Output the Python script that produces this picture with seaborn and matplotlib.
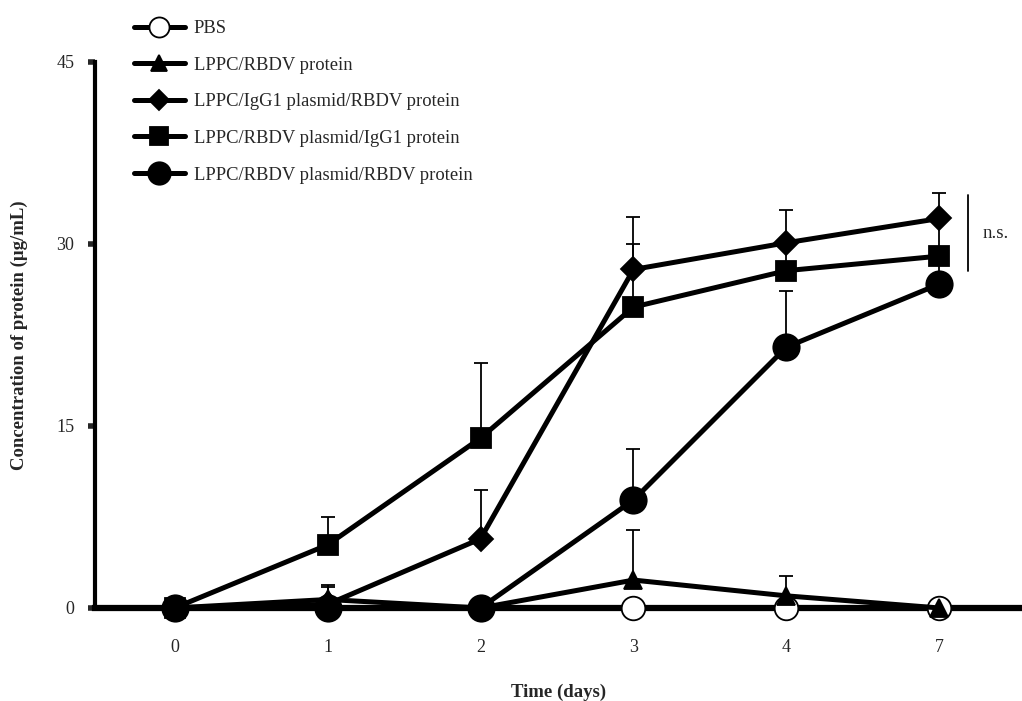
import numpy as np
import pandas as pd
import matplotlib
matplotlib.use("Agg")
import matplotlib.pyplot as plt
import seaborn as sns

days = ["0", "1", "2", "3", "4", "7"]
groups = ["PBS", "LPPC/RBDV protein", "LPPC/IgG1 plasmid/RBDV protein",
          "LPPC/RBDV plasmid/IgG1 protein", "LPPC/RBDV plasmid/RBDV protein"]

pbs = [0, 0, 0, 0, 0, 0]
rbdv_protein = [0, 0.7, 0, 2.3, 1.0, 0]
igg_plasmid = [0, 0.3, 5.7, 27.9, 30.1, 32.1]
rbdv_plasmid_igg = [0, 5.2, 14.0, 24.8, 27.8, 29.0]
rbdv_plasmid_rbdv = [0, 0, 0, 8.9, 21.5, 26.7]

pbs_err = [0, 0, 0, 0, 0, 0]
rbdv_protein_err = [0, 1.0, 0, 4.1, 1.6, 0]
igg_plasmid_err = [0, 1.6, 4.0, 4.3, 2.7, 2.1]
rbdv_plasmid_igg_err = [0, 2.3, 6.2, 5.2, 2.0, 3.0]
rbdv_plasmid_rbdv_err = [0, 0, 0, 4.2, 4.6, 2.5]

values = [pbs, rbdv_protein, igg_plasmid, rbdv_plasmid_igg, rbdv_plasmid_rbdv]
errors = [pbs_err, rbdv_protein_err, igg_plasmid_err, rbdv_plasmid_igg_err, rbdv_plasmid_rbdv_err]
markers = ["o", "^", "D", "s", "o"]
msizes = [17, 13, 12, 15, 19]
facecolors = ["white", "black", "black", "black", "black"]

rows = []
for g, v, e in zip(groups, values, errors):
    for i, d in enumerate(days):
        rows.append({"group": g, "pos": i, "day": d, "value": v[i], "err": e[i]})
df = pd.DataFrame(rows)

sns.set_style("white")
plt.rcParams["font.family"] = ["Liberation Serif", "DejaVu Serif"]

fig = plt.figure(figsize=(10.22, 7.01), dpi=100)
ax = fig.add_axes([0.093, 0.1327, 0.907, 0.7789])

for g, m, ms, fc in zip(groups, markers, msizes, facecolors):
    sub = df[df["group"] == g]
    ax.errorbar(sub["pos"], sub["value"], yerr=[np.zeros(len(sub)), sub["err"]],
                fmt="none", ecolor="black", elinewidth=1.3, capsize=5, capthick=1.3, zorder=2)
    sns.lineplot(data=sub, x="pos", y="value", ax=ax, color="black", linewidth=3.6,
                 marker=m, markersize=ms, markerfacecolor=fc, markeredgecolor="black",
                 markeredgewidth=1.3, clip_on=False, zorder=4, label=g, legend=False)

ax.set_xlim(-0.52, 5.54)
ax.set_ylim(0, 45)
ax.set_xticks(range(len(days)))
ax.set_xticklabels(days)
ax.set_yticks([0, 15, 30, 45])
ax.tick_params(axis="x", length=0, pad=22, labelsize=13)
ax.tick_params(axis="y", length=5, width=4, direction="out", pad=10, labelsize=13, left=True)

for s in ["top", "right"]:
    ax.spines[s].set_visible(False)
ax.spines["left"].set_linewidth(3)
ax.spines["bottom"].set_linewidth(4.5)
ax.spines["left"].set_color("black")
ax.spines["bottom"].set_color("black")

ax.set_xlabel("Time (days)", fontsize=13.5, fontweight="bold", labelpad=20)
ax.set_ylabel("Concentration of protein (\u03bcg/mL)", fontsize=13.5, fontweight="bold", labelpad=20)

# n.s. bracket
ax.plot([5.19, 5.19], [27.8, 34.0], color="black", linewidth=1.3, clip_on=False)
ax.text(5.37, 30.9, "n.s.", fontsize=13.5, va="center", ha="center")

h, l = ax.get_legend_handles_labels()
fig.legend(h, l, loc="upper left", bbox_to_anchor=(0.115, 0.995), frameon=False,
           fontsize=13.4, handlelength=2.7, handletextpad=0.5, labelspacing=1.05,
           markerscale=0.85)

fig.savefig("out.png", dpi=100)
